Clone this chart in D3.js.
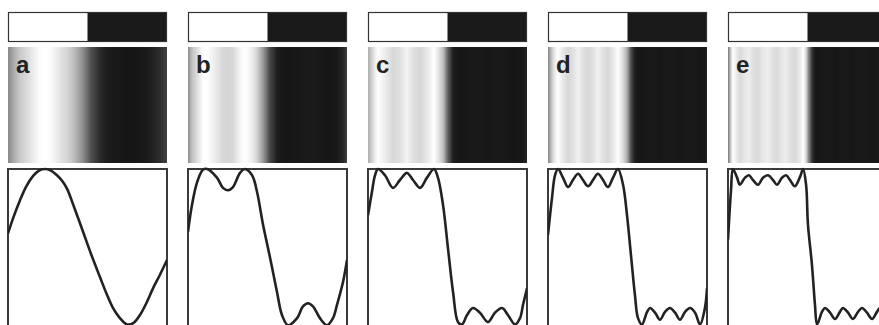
<!DOCTYPE html>
<html><head><meta charset="utf-8">
<script src="https://cdn.jsdelivr.net/npm/d3@7"></script>
<style>html,body{margin:0;padding:0;background:#fff;overflow:hidden}</style>
</head><body><svg id="chart" width="879" height="325"></svg>
<script>
// ---- data ----
const panelLabels = ["a", "b", "c", "d", "e"];
// top bar: square wave, high (white) over first half, low (black) over second half
const barStarts = [0, 0.5];
const barEnds = [0.5, 1];
const barLevels = [1, -1];
// partial-sum curves: [position in period (0..1), amplitude (-1..1)]
const curveA = [[0,0.18],[0.035,0.39],[0.075,0.60],[0.115,0.78],[0.157,0.91],[0.195,0.98],[0.233,1.0],
  [0.27,0.98],[0.308,0.92],[0.34,0.85],[0.371,0.75],[0.42,0.49],[0.472,0.20],[0.52,-0.07],
  [0.579,-0.38],[0.62,-0.59],[0.66,-0.77],[0.70,-0.89],[0.748,-0.98],[0.79,-0.96],[0.83,-0.86],
  [0.87,-0.71],[0.912,-0.52],[0.955,-0.35],[1,-0.16]];
const curveB = [[0,0.20],[0.025,0.54],[0.057,0.83],[0.094,0.99],[0.12,1.0],[0.182,0.89],[0.22,0.76],
  [0.252,0.73],[0.283,0.77],[0.327,0.95],[0.358,1.0],[0.403,0.92],[0.434,0.71],[0.472,0.29],[0.516,-0.13],
  [0.56,-0.57],[0.591,-0.86],[0.629,-0.99],[0.686,-0.90],[0.723,-0.75],[0.755,-0.71],[0.786,-0.75],
  [0.83,-0.90],[0.874,-0.99],[0.912,-0.90],[0.937,-0.73],[0.975,-0.44],[1,-0.16]];
const curveC = [[0,0.41],[0.025,0.71],[0.044,0.92],[0.063,1.0],[0.107,0.92],[0.157,0.76],[0.201,0.86],
  [0.245,0.95],[0.283,0.86],[0.327,0.76],[0.371,0.89],[0.415,1.0],[0.44,0.89],[0.472,0.54],[0.503,-0.01],
  [0.535,-0.57],[0.566,-0.95],[0.591,-0.98],[0.623,-0.86],[0.66,-0.77],[0.704,-0.83],[0.755,-0.95],
  [0.799,-0.83],[0.843,-0.77],[0.88,-0.86],[0.925,-0.98],[0.956,-0.90],[0.975,-0.73],[1,-0.52]];
const curveD = [[0,0.16],[0.025,0.63],[0.044,0.92],[0.063,1.0],[0.094,0.89],[0.126,0.77],[0.157,0.86],
  [0.189,0.94],[0.22,0.86],[0.252,0.78],[0.283,0.86],[0.314,0.94],[0.346,0.86],[0.377,0.77],[0.409,0.89],
  [0.44,1.0],[0.472,0.80],[0.497,0.41],[0.522,-0.10],[0.547,-0.61],[0.566,-0.90],[0.591,-0.98],
  [0.623,-0.82],[0.642,-0.77],[0.673,-0.83],[0.704,-0.92],[0.736,-0.82],[0.767,-0.77],[0.799,-0.83],
  [0.83,-0.92],[0.862,-0.82],[0.893,-0.77],[0.925,-0.83],[0.956,-0.98],[0.987,-0.77],[1,-0.52]];
const curveE = [[0,0.10],[0.019,0.73],[0.031,1.0],[0.057,0.89],[0.075,0.80],[0.107,0.89],[0.132,0.92],
  [0.157,0.86],[0.189,0.80],[0.22,0.89],[0.252,0.92],[0.283,0.86],[0.308,0.80],[0.34,0.89],[0.365,0.92],
  [0.39,0.86],[0.421,0.78],[0.453,0.90],[0.472,1.0],[0.491,0.80],[0.503,0.29],[0.528,-0.22],[0.547,-0.73],
  [0.56,-0.98],[0.591,-0.82],[0.61,-0.77],[0.642,-0.83],[0.673,-0.91],[0.704,-0.82],[0.723,-0.77],
  [0.755,-0.83],[0.786,-0.91],[0.818,-0.82],[0.843,-0.77],[0.874,-0.83],[0.906,-0.91],[0.937,-0.82],
  [0.956,-0.77],[0.98,-0.85],[1,-0.95]];
const curves = [curveA, curveB, curveC, curveD, curveE];
// amplitude -> grey level for the middle strip
const greyDomain = [-1, -0.6, -0.2, 0.2, 0.6, 0.85, 1];
const greyRange = ["#161616", "#1c1c1c", "#383838", "#8c8c8c", "#cacaca", "#dedede", "#ffffff"];

// ---- layout ----
const svg = d3.select("#chart");
const panelX0 = 8, panelStep = 180, panelW = 159;
const bar = {y: 12, h: 30}, strip = {y: 47, h: 116}, plot = {y: 169, h: 165};
const grey = d3.scaleLinear().domain(greyDomain).range(greyRange).clamp(true);
const yPlot = d3.scaleLinear().domain([-1, 1]).range([326, 169]);
const yBar = d3.scaleOrdinal().domain([1, -1]).range(["#ffffff", "#1a1a1a"]);
const defs = svg.append("defs");

panelLabels.forEach((lab, i) => {
  const L = panelX0 + panelStep * i;
  const x = d3.scaleLinear().domain([0, 1]).range([L, L + panelW]);
  const g = svg.append("g");
  const data = curves[i];

  // top bar
  g.selectAll("rect.bar").data(barLevels).enter().append("rect")
    .attr("x", (d, k) => x(barStarts[k])).attr("y", bar.y)
    .attr("width", (d, k) => x(barEnds[k]) - x(barStarts[k])).attr("height", bar.h)
    .attr("fill", d => yBar(d));
  g.append("rect").attr("x", x(0) + 0.5).attr("y", bar.y + 0.5)
    .attr("width", panelW - 1).attr("height", bar.h - 1)
    .attr("fill", "none").attr("stroke", "#333").attr("stroke-width", 1.2);

  // middle grey strip (gradient from the same curve)
  const gid = "grad" + i;
  const grad = defs.append("linearGradient").attr("id", gid)
    .attr("gradientUnits", "userSpaceOnUse")
    .attr("x1", x(0)).attr("x2", x(1)).attr("y1", 0).attr("y2", 0);
  grad.selectAll("stop").data(data).enter().append("stop")
    .attr("offset", d => d[0]).attr("stop-color", d => grey(d[1]));
  g.append("rect").attr("x", x(0)).attr("y", strip.y)
    .attr("width", panelW).attr("height", strip.h).attr("fill", `url(#${gid})`);
  g.append("text").attr("x", x(0) + 8).attr("y", strip.y + 26)
    .attr("font-family", "'Liberation Sans', Arial, sans-serif")
    .attr("font-weight", "bold").attr("font-size", 24).attr("fill", "#222")
    .text(lab);

  // bottom plot
  const cid = "clip" + i;
  defs.append("clipPath").attr("id", cid).append("rect")
    .attr("x", x(0)).attr("y", plot.y - 2).attr("width", panelW).attr("height", plot.h + 2);
  g.append("rect").attr("x", x(0)).attr("y", plot.y)
    .attr("width", panelW).attr("height", plot.h)
    .attr("fill", "#fff").attr("stroke", "#3a3a3a").attr("stroke-width", 2);
  const line = d3.line().x(d => x(d[0])).y(d => yPlot(d[1])).curve(d3.curveCatmullRom.alpha(0.5));
  g.append("path").datum(data).attr("d", line)
    .attr("clip-path", `url(#${cid})`)
    .attr("fill", "none").attr("stroke", "#222").attr("stroke-width", 2.6)
    .attr("stroke-linejoin", "round");
});
</script></body></html>
